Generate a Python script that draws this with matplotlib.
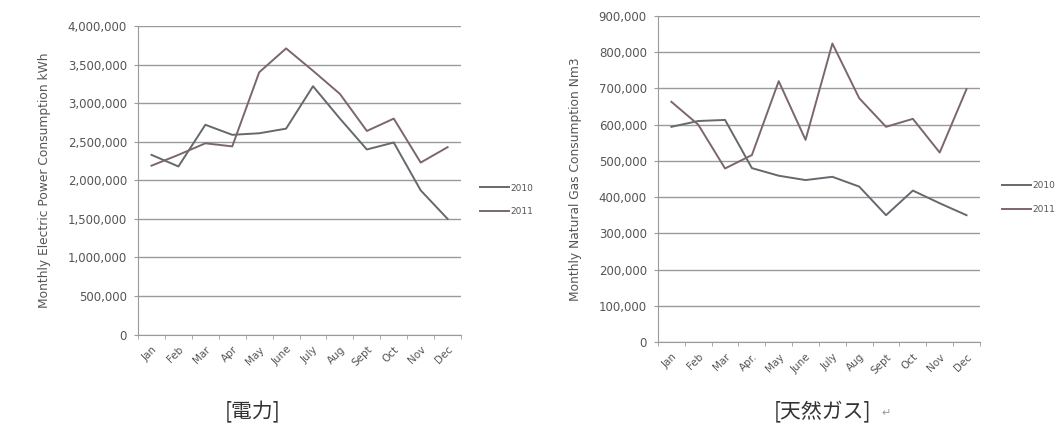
import matplotlib.pyplot as plt
from matplotlib.ticker import FuncFormatter, MultipleLocator

plt.rcParams['font.family'] = ['DejaVu Sans', 'Noto Sans CJK JP']

# monthly data
months_power = ["Jan", "Feb", "Mar", "Apr", "May", "June", "July", "Aug", "Sept", "Oct", "Nov", "Dec"]
months_gas = ["Jan", "Feb", "Mar", "Apr.", "May", "June", "July", "Aug", "Sept", "Oct", "Nov", "Dec"]
years = ["2010", "2011"]

power_2010 = [2330000, 2180000, 2720000, 2590000, 2610000, 2670000,
              3220000, 2800000, 2400000, 2490000, 1870000, 1500000]
power_2011 = [2190000, 2330000, 2480000, 2440000, 3400000, 3710000,
              3420000, 3120000, 2640000, 2800000, 2230000, 2430000]

gas_2010 = [594000, 610000, 613000, 480000, 459000, 447000,
            456000, 429000, 350000, 418000, 383000, 350000]
gas_2011 = [663000, 600000, 479000, 516000, 720000, 558000,
            824000, 673000, 594000, 616000, 523000, 698000]

line_colors = ["#66686e", "#7c666e"]
text_color = "#555555"
grid_color = "#9a9a9a"

fig = plt.figure(figsize=(10.57, 4.29), dpi=100)
ax1 = fig.add_axes([0.1306, 0.22, 0.3056, 0.7193])
ax2 = fig.add_axes([0.6225, 0.2028, 0.3046, 0.76])


def style_axis(ax, labels, ymax, step, ylabel):
    ax.set_xlim(-0.5, 11.5)
    ax.set_ylim(0, ymax)
    ax.yaxis.set_major_locator(MultipleLocator(step))
    ax.yaxis.set_major_formatter(FuncFormatter(lambda v, p: f"{v:,.0f}"))
    ax.set_xticks(range(12))
    ax.set_xticklabels(labels, rotation=45, ha="right", rotation_mode="anchor")
    ax.set_xticks([i + 0.5 for i in range(-1, 12)], minor=True)
    ax.tick_params(axis="x", which="major", length=0, labelsize=7.5,
                   labelcolor=text_color, pad=7)
    ax.tick_params(axis="x", which="minor", length=3, color=grid_color)
    ax.tick_params(axis="y", length=3, color=grid_color, labelsize=8.5,
                   labelcolor=text_color, pad=5)
    ax.grid(axis="y", color=grid_color, linewidth=1.0)
    for side in ["top", "right"]:
        ax.spines[side].set_visible(False)
    ax.spines["left"].set_color(grid_color)
    ax.spines["bottom"].set_color(grid_color)
    ax.set_ylabel(ylabel, fontsize=8.8, color=text_color, labelpad=12)


ax1.plot(range(12), power_2010, color=line_colors[0], lw=1.4, label=years[0])
ax1.plot(range(12), power_2011, color=line_colors[1], lw=1.4, label=years[1])
style_axis(ax1, months_power, 4000000, 500000, "Monthly Electric Power Consumption kWh")

ax2.plot(range(12), gas_2010, color=line_colors[0], lw=1.4, label=years[0])
ax2.plot(range(12), gas_2011, color=line_colors[1], lw=1.4, label=years[1])
style_axis(ax2, months_gas, 900000, 100000, "Monthly Natural Gas Consumption Nm3")

for ax, x0, y0 in [(ax1, 0.454, 0.572), (ax2, 0.948, 0.577)]:
    ax.legend(loc="upper left", bbox_to_anchor=(x0, y0), bbox_transform=fig.transFigure,
              frameon=False, fontsize=6.5, handlelength=3.2, handletextpad=0.2,
              labelspacing=1.6, borderpad=0, borderaxespad=0, labelcolor=text_color)

fig.text(0.239, 0.025, "[電力]", fontsize=15, color="#333333", ha="center",
         family=["Noto Sans CJK JP", "DejaVu Sans"])
fig.text(0.778, 0.025, "[天然ガス]", fontsize=15, color="#333333", ha="center",
         family=["Noto Sans CJK JP", "DejaVu Sans"])
fig.text(0.834, 0.03, "↵", fontsize=8, color="#999999", ha="left")

fig.savefig("out.png", dpi=100)
